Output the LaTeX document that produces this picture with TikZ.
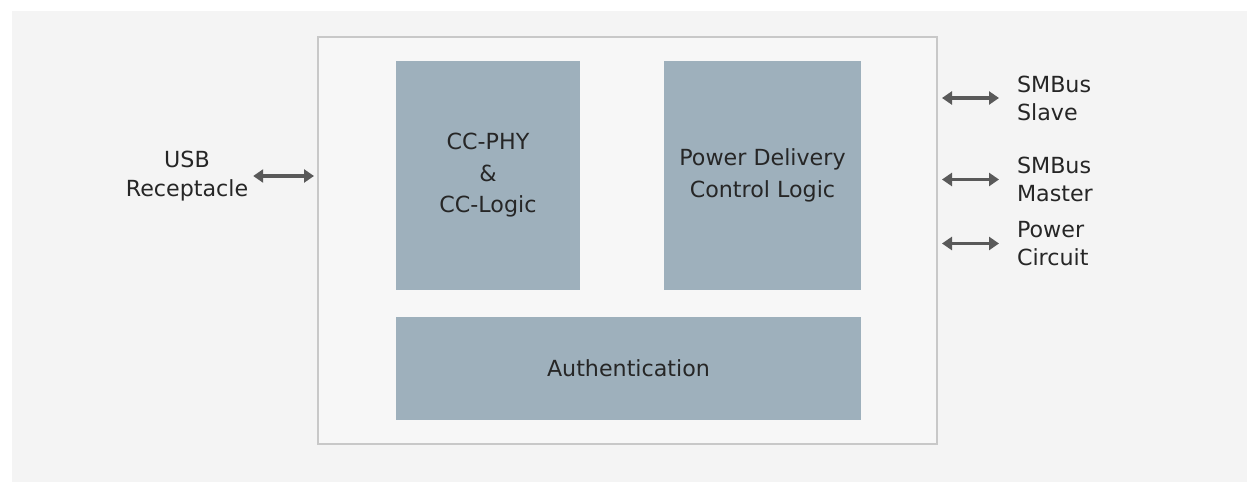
\documentclass[tikz,border=0pt]{standalone}
\usepackage{fontspec}
\setmainfont{DejaVu Sans}
\usetikzlibrary{arrows.meta}
\definecolor{pagebg}{HTML}{F4F4F4}
\definecolor{boxbg}{HTML}{F7F7F7}
\definecolor{boxline}{HTML}{C8C8C8}
\definecolor{blockfill}{HTML}{9EB0BC}
\definecolor{txt}{HTML}{262626}
\definecolor{arrcol}{HTML}{595959}
\tikzset{
  block/.style={fill=blockfill, draw=none, inner sep=0pt, outer sep=0pt, align=center,
    text=txt, font=\fontsize{22.2}{31.5}\selectfont},
  lbl/.style={inner sep=0pt, outer sep=0pt, text=txt, font=\fontsize{22.2}{28}\selectfont},
  biarrow/.style={draw=arrcol, line width=3.5pt,
    {Triangle[length=10pt,width=13pt]}-{Triangle[length=10pt,width=13pt]}}
}
\begin{document}
\begin{tikzpicture}[x=1pt,y=-1pt]
\useasboundingbox (0,0) rectangle (1256,494);
\fill[white] (0,0) rectangle (1256,494);
\fill[pagebg] (12,11) rectangle (1247,482);
% outer chip box
\node[draw=boxline, fill=boxbg, line width=2pt, inner sep=0pt, outer sep=0pt,
  minimum width=619pt, minimum height=407pt] (chip) at (627.5,240.5) {};
% inner blocks
\node[block, minimum width=184pt, minimum height=229pt] (cc) at (488,175.5)
  {CC-PHY\\\&\\CC-Logic};
\node[block, minimum width=197pt, minimum height=229pt] (pd) at (762.5,175.5)
  {Power Delivery\\Control Logic};
\node[block, minimum width=465pt, minimum height=103pt] (auth) at (628.5,368.5)
  {Authentication};
% labels
\node[lbl, align=center, font=\fontsize{22.2}{29}\selectfont] (usb) at (187,176) {USB\\Receptacle};
\node[lbl, align=left, anchor=west] (slave) at (1017,98) {SMBus\\Slave};
\node[lbl, align=left, anchor=west] (master) at (1017,179.5) {SMBus\\Master};
\node[lbl, align=left, anchor=west] (power) at (1017,243.5) {Power\\Circuit};
% arrows
\draw[biarrow] ([xshift=5pt]usb.east) -- ([xshift=-4pt]usb.east -| chip.west);
\draw[biarrow] ([xshift=5pt]slave.west -| chip.east) -- ([xshift=-18pt]slave.west);
\draw[biarrow] ([xshift=5pt]master.west -| chip.east) -- ([xshift=-18pt]master.west);
\draw[biarrow] ([xshift=5pt]power.west -| chip.east) -- ([xshift=-18pt]power.west);
\end{tikzpicture}
\end{document}
